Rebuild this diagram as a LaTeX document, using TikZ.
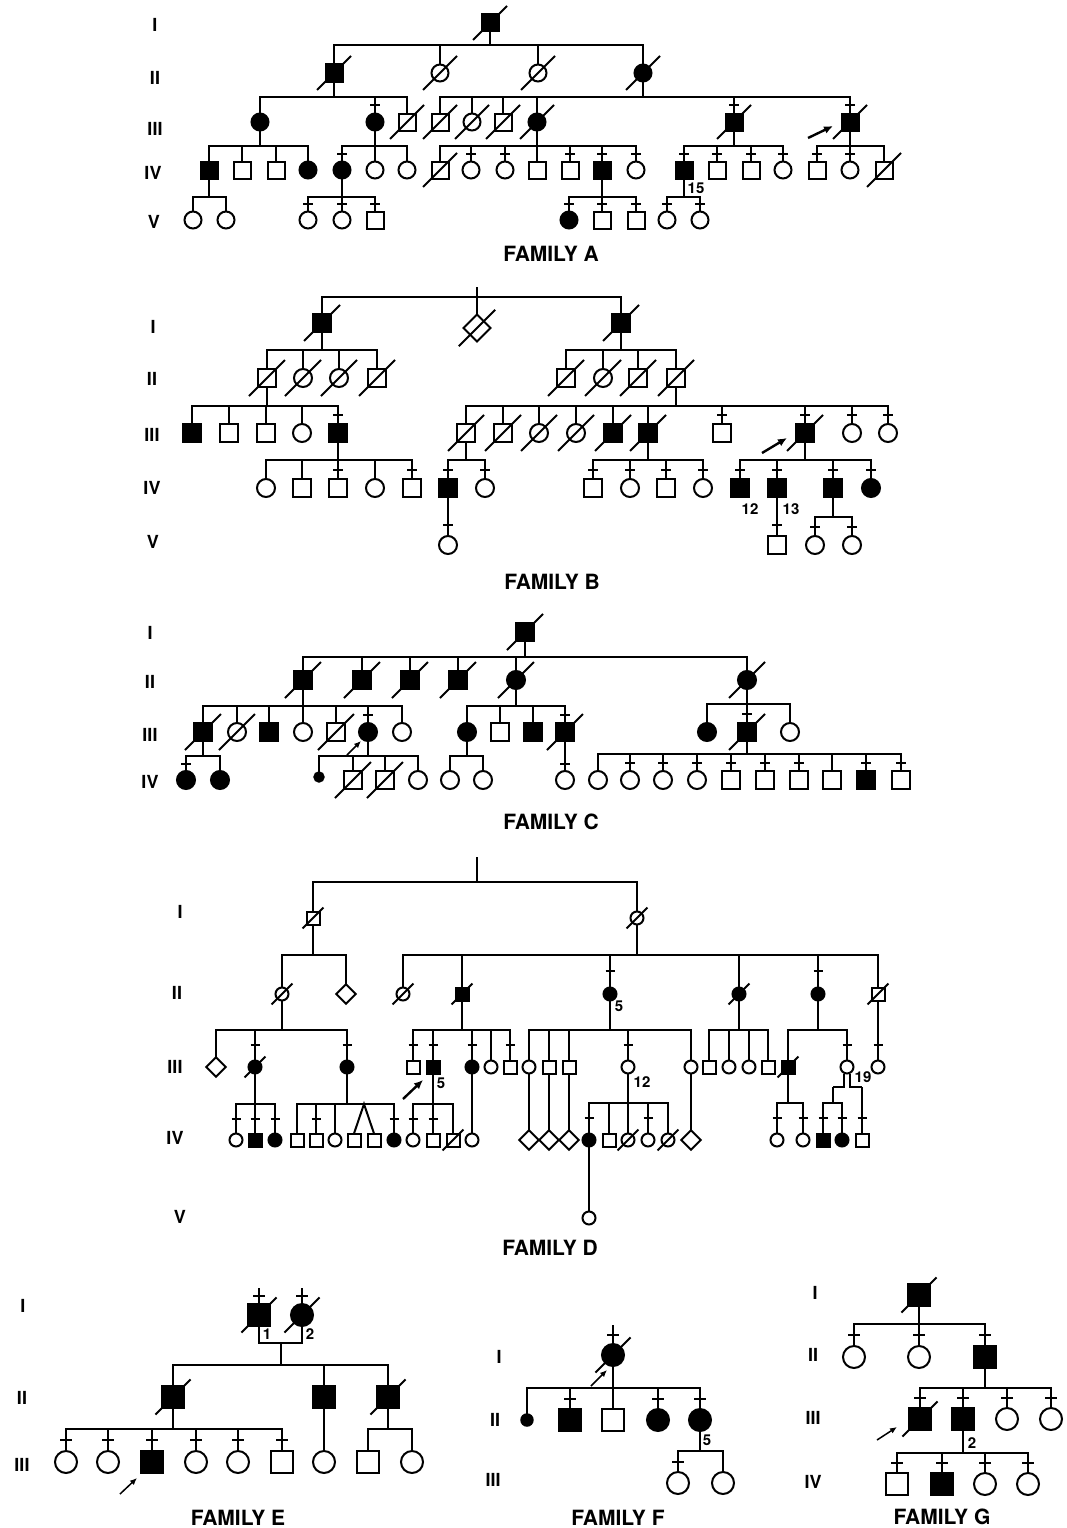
\documentclass[tikz,border=0pt]{standalone}
\usepackage{fontspec}
\setmainfont{TeX Gyre Heros}
\usetikzlibrary{calc,positioning,shapes.geometric,arrows.meta}
\tikzset{
  ln/.style={line width=2pt},
  ped/.style={draw,line width=2pt,inner sep=0pt,outer sep=0pt},
  male/.style={ped,rectangle,minimum size=\sz},
  maleA/.style={male,fill=black},
  fem/.style={ped,circle,minimum size=\sz},
  femA/.style={fem,fill=black},
  unk/.style={ped,diamond,minimum size=1.5*\sz},
  dotA/.style={ped,circle,fill=black,minimum size=0.52*\sz},
  pro/.style={line width=2.4pt,-{Latex[length=9pt,width=8pt]}},
  pros/.style={line width=1.5pt,-{Latex[length=7pt,width=6pt]}},
  gen/.style={font=\bfseries\fontsize{18}{18}\selectfont},
  fam/.style={font=\bfseries\fontsize{21}{21}\selectfont},
  num/.style={font=\bfseries\fontsize{15}{15}\selectfont,inner sep=0pt},
}
\begin{document}
\begin{tikzpicture}[x=1pt,y=-1pt]
  \useasboundingbox (0,0) rectangle (1067,1528);
  %\draw[color=gray,step=10,help lines,opacity=0.3] (0,0) grid (1067,1528); %help grids
  \def\sib#1#2#3#4{%
    \foreach \kid in {#3}{\draw[ln] (#1) -- (#1 |- 0,#2) -| (\kid.north);}
    \def\tklist{#4}%
    \ifx\tklist\empty\else
      \foreach \kid in {#4}{\draw[ln] ($(\kid.north)!.5!(\kid.north |- 0,#2)$) +(-\tw,0) -- +(\tw,0);}
    \fi}
  \def\dd#1{\draw[ln] ($(#1.center)!\slf!(#1.west |- #1.south)$) -- ($(#1.center)!\slf!(#1.east |- #1.north)$);}
  \def\stub#1#2{%
    \coordinate (#1-top) at ($(#1.north)+(0,-#2)$);
    \draw[ln] (#1-top) -- (#1);
    \draw[ln] ($(#1.north)!.5!(#1-top)$) +(-\tw,0) -- +(\tw,0);}

  % ---------------- family A
  \def\sz{17pt}\def\slf{2}\def\tw{5}
  \node[gen] (aI) at (155,25) {I};
  \node[gen] (aII) at (155,78) {II};
  \node[gen] (aIII) at (155,129) {III};
  \node[gen] (aIV) at (153,173) {IV};
  \node[gen] (aV) at (154,222) {V};
  \node[maleA] (a1-1) at (490,23) {};
  \node[maleA] (a2-1) at (334,73) {};
  \node[fem] (a2-2) at (440,73) {};
  \node[fem] (a2-3) at (538,73) {};
  \node[femA] (a2-4) at (643,73) {};
  \node[femA] (a3-1) at (260,122) {};
  \node[femA] (a3-2) at (375,122) {};
  \node[male] (a3-3) at (407,122) {};
  \node[male] (a3-4) at (440,122) {};
  \node[fem] (a3-5) at (472,122) {};
  \node[male] (a3-6) at (503,122) {};
  \node[femA] (a3-7) at (537,122) {};
  \node[maleA] (a3-8) at (734,122) {};
  \node[maleA] (a3-9) at (850,122) {};
  \node[maleA] (a4-1) at (209,170) {};
  \node[male] (a4-2) at (242,170) {};
  \node[male] (a4-3) at (276,170) {};
  \node[femA] (a4-4) at (308,170) {};
  \node[femA] (a4-5) at (342,170) {};
  \node[fem] (a4-6) at (375,170) {};
  \node[fem] (a4-7) at (407,170) {};
  \node[male] (a4-8) at (440,170) {};
  \node[fem] (a4-9) at (471,170) {};
  \node[fem] (a4-10) at (505,170) {};
  \node[male] (a4-11) at (537,170) {};
  \node[male] (a4-12) at (570,170) {};
  \node[maleA] (a4-13) at (602,170) {};
  \node[fem] (a4-14) at (636,170) {};
  \node[maleA] (a4-15) at (684,170) {};
  \node[male] (a4-16) at (717,170) {};
  \node[male] (a4-17) at (751,170) {};
  \node[fem] (a4-18) at (783,170) {};
  \node[male] (a4-19) at (817,170) {};
  \node[fem] (a4-20) at (850,170) {};
  \node[male] (a4-21) at (884,170) {};
  \node[fem] (a5-1) at (193,220) {};
  \node[fem] (a5-2) at (226,220) {};
  \node[fem] (a5-3) at (308,220) {};
  \node[fem] (a5-4) at (342,220) {};
  \node[male] (a5-5) at (375,220) {};
  \node[femA] (a5-6) at (569,220) {};
  \node[male] (a5-7) at (602,220) {};
  \node[male] (a5-8) at (636,220) {};
  \node[fem] (a5-9) at (667,220) {};
  \node[fem] (a5-10) at (700,220) {};
  \sib{a1-1}{45}{a2-1,a2-2,a2-3,a2-4}{}
  \sib{a2-1}{97}{a3-1,a3-2,a3-3}{a3-2}
  \sib{a2-4}{97}{a3-4,a3-5,a3-6,a3-7,a3-8,a3-9}{a3-8,a3-9}
  \sib{a3-1}{146}{a4-1,a4-2,a4-3,a4-4}{}
  \sib{a3-2}{146}{a4-5,a4-6,a4-7}{a4-5}
  \sib{a3-7}{146}{a4-8,a4-9,a4-10,a4-11,a4-12,a4-13,a4-14}{a4-9,a4-10,a4-12,a4-13,a4-14}
  \sib{a3-8}{146}{a4-15,a4-16,a4-17,a4-18}{a4-15,a4-16,a4-17,a4-18}
  \sib{a3-9}{146}{a4-19,a4-20,a4-21}{a4-19,a4-20}
  \sib{a4-1}{197}{a5-1,a5-2}{}
  \sib{a4-5}{197}{a5-3,a5-4,a5-5}{a5-3,a5-4,a5-5}
  \sib{a4-13}{197}{a5-6,a5-7,a5-8}{a5-6,a5-7,a5-8}
  \sib{a4-15}{197}{a5-9,a5-10}{a5-9,a5-10}
  \foreach \n in {a1-1,a2-1,a2-2,a2-3,a2-4,a3-3,a3-4,a3-5,a3-6,a3-7,a3-8,a3-9,a4-8,a4-21} \dd{\n};
  \node[num] (n15) at (696,188) {15};
  \coordinate (pA) at (808,138);
  \draw[pro] (pA) -- ++(25,-12);
  \node[fam] (famA) at (551,254) {FAMILY A};

  % ---------------- family B
  \def\sz{18pt}\def\slf{2}\def\tw{5}
  \node[gen] (bI) at (153,327) {I};
  \node[gen] (bII) at (152,379) {II};
  \node[gen] (bIII) at (152,435) {III};
  \node[gen] (bIV) at (152,488) {IV};
  \node[gen] (bV) at (153,542) {V};
  \coordinate (b0) at (477,287);
  \node[maleA] (b1-1) at (322,323) {};
  \node[unk] (b1-2) at (477,328) {};
  \node[maleA] (b1-3) at (621,323) {};
  \node[male] (b2-1) at (267,378) {};
  \node[fem] (b2-2) at (303,378) {};
  \node[fem] (b2-3) at (339,378) {};
  \node[male] (b2-4) at (377,378) {};
  \node[male] (b2-5) at (566,378) {};
  \node[fem] (b2-6) at (603,378) {};
  \node[male] (b2-7) at (638,378) {};
  \node[male] (b2-8) at (676,378) {};
  \node[maleA] (b3-1) at (192,433) {};
  \node[male] (b3-2) at (229,433) {};
  \node[male] (b3-3) at (266,433) {};
  \node[fem] (b3-4) at (302,433) {};
  \node[maleA] (b3-5) at (338,433) {};
  \node[male] (b3-6) at (466,433) {};
  \node[male] (b3-7) at (503,433) {};
  \node[fem] (b3-8) at (539,433) {};
  \node[fem] (b3-9) at (576,433) {};
  \node[maleA] (b3-10) at (613,433) {};
  \node[maleA] (b3-11) at (648,433) {};
  \node[male] (b3-12) at (722,433) {};
  \node[maleA] (b3-13) at (805,433) {};
  \node[fem] (b3-14) at (852,433) {};
  \node[fem] (b3-15) at (888,433) {};
  \node[fem] (b4-1) at (266,488) {};
  \node[male] (b4-2) at (302,488) {};
  \node[male] (b4-3) at (338,488) {};
  \node[fem] (b4-4) at (375,488) {};
  \node[male] (b4-5) at (412,488) {};
  \node[maleA] (b4-6) at (448,488) {};
  \node[fem] (b4-7) at (485,488) {};
  \node[male] (b4-8) at (593,488) {};
  \node[fem] (b4-9) at (630,488) {};
  \node[male] (b4-10) at (666,488) {};
  \node[fem] (b4-11) at (703,488) {};
  \node[maleA] (b4-12) at (740,488) {};
  \node[maleA] (b4-13) at (777,488) {};
  \node[maleA] (b4-14) at (833,488) {};
  \node[femA] (b4-15) at (871,488) {};
  \node[fem] (b5-1) at (448,545) {};
  \node[male] (b5-2) at (777,545) {};
  \node[fem] (b5-3) at (815,545) {};
  \node[fem] (b5-4) at (852,545) {};
  \sib{b0}{297}{b1-1,b1-2,b1-3}{}
  \sib{b1-1}{350}{b2-1,b2-2,b2-3,b2-4}{}
  \sib{b1-3}{350}{b2-5,b2-6,b2-7,b2-8}{}
  \sib{b2-1}{406}{b3-1,b3-2,b3-3,b3-4,b3-5}{b3-5}
  \sib{b2-8}{406}{b3-6,b3-7,b3-8,b3-9,b3-10,b3-11,b3-12,b3-13,b3-14,b3-15}{b3-12,b3-13,b3-14,b3-15}
  \sib{b3-5}{460}{b4-1,b4-2,b4-3,b4-4,b4-5}{b4-3,b4-5}
  \sib{b3-6}{460}{b4-6,b4-7}{b4-6,b4-7}
  \sib{b3-11}{460}{b4-8,b4-9,b4-10,b4-11}{b4-8,b4-9,b4-10,b4-11}
  \sib{b3-13}{460}{b4-12,b4-13,b4-14,b4-15}{b4-12,b4-13,b4-14,b4-15}
  \sib{b4-6}{514}{b5-1}{b5-1}
  \sib{b4-13}{514}{b5-2}{b5-2}
  \sib{b4-14}{517}{b5-3,b5-4}{b5-3,b5-4}
  \foreach \n in {b1-1,b1-3,b2-1,b2-2,b2-3,b2-4,b2-5,b2-6,b2-7,b2-8,b3-6,b3-7,b3-8,b3-9,b3-10,b3-11,b3-13} \dd{\n};
  {\def\slf{1.35}\dd{b1-2}}
  \node[num] (n12) at (750,509) {12};
  \node[num] (n13) at (791,509) {13};
  \coordinate (pB) at (762,453);
  \draw[pro] (pB) -- ++(25,-15);
  \node[fam] (famB) at (552,582) {FAMILY B};

  % ---------------- family C
  \def\sz{18pt}\def\slf{2}\def\tw{5}
  \node[gen] (cI) at (150,633) {I};
  \node[gen] (cII) at (150,682) {II};
  \node[gen] (cIII) at (150,735) {III};
  \node[gen] (cIV) at (150,782) {IV};
  \node[maleA] (c1-1) at (525,632) {};
  \node[maleA] (c2-1) at (303,680) {};
  \node[maleA] (c2-2) at (362,680) {};
  \node[maleA] (c2-3) at (410,680) {};
  \node[maleA] (c2-4) at (458,680) {};
  \node[femA] (c2-5) at (516,680) {};
  \node[femA] (c2-6) at (747,680) {};
  \node[maleA] (c3-1) at (203,732) {};
  \node[fem] (c3-2) at (237,732) {};
  \node[maleA] (c3-3) at (269,732) {};
  \node[fem] (c3-4) at (303,732) {};
  \node[male] (c3-5) at (336,732) {};
  \node[femA] (c3-6) at (368,732) {};
  \node[fem] (c3-7) at (402,732) {};
  \node[femA] (c3-8) at (467,732) {};
  \node[male] (c3-9) at (500,732) {};
  \node[maleA] (c3-10) at (533,732) {};
  \node[maleA] (c3-11) at (565,732) {};
  \node[femA] (c3-12) at (707,732) {};
  \node[maleA] (c3-13) at (747,732) {};
  \node[fem] (c3-14) at (790,732) {};
  \node[femA] (c4-1) at (186,780) {};
  \node[femA] (c4-2) at (220,780) {};
  \node[dotA] (c4-3) at (319,777) {};
  \node[male] (c4-4) at (353,780) {};
  \node[male] (c4-5) at (385,780) {};
  \node[fem] (c4-6) at (418,780) {};
  \node[fem] (c4-7) at (450,780) {};
  \node[fem] (c4-8) at (483,780) {};
  \node[fem] (c4-9) at (565,780) {};
  \node[fem] (c4-10) at (598,780) {};
  \node[fem] (c4-11) at (630,780) {};
  \node[fem] (c4-12) at (663,780) {};
  \node[fem] (c4-13) at (697,780) {};
  \node[male] (c4-14) at (731,780) {};
  \node[male] (c4-15) at (765,780) {};
  \node[male] (c4-16) at (799,780) {};
  \node[male] (c4-17) at (832,780) {};
  \node[maleA] (c4-18) at (866,780) {};
  \node[male] (c4-19) at (901,780) {};
  \sib{c1-1}{657}{c2-1,c2-2,c2-3,c2-4,c2-5,c2-6}{}
  \sib{c2-1}{706}{c3-1,c3-2,c3-3,c3-4,c3-5,c3-6,c3-7}{c3-6}
  \sib{c2-5}{706}{c3-8,c3-9,c3-10,c3-11}{c3-11}
  \sib{c2-6}{704}{c3-12,c3-13,c3-14}{c3-13}
  \sib{c3-1}{756}{c4-1,c4-2}{c4-1}
  \sib{c3-6}{756}{c4-3,c4-4,c4-5,c4-6}{}
  \sib{c3-8}{756}{c4-7,c4-8}{}
  \sib{c3-11}{756}{c4-9}{c4-9}
  \sib{c3-13}{754}{c4-10,c4-11,c4-12,c4-13,c4-14,c4-15,c4-16,c4-17,c4-18,c4-19}{c4-11,c4-12,c4-13,c4-14,c4-15,c4-16,c4-18,c4-19}
  \foreach \n in {c1-1,c2-1,c2-2,c2-3,c2-4,c2-5,c2-6,c3-1,c3-2,c3-5,c3-11,c3-13,c4-4,c4-5} \dd{\n};
  \coordinate (pC) at (347,755);
  \draw[pros] (pC) -- ++(14,-14);
  \node[fam] (famC) at (551,822) {FAMILY C};

  % ---------------- family D
  \def\sz{13pt}\def\slf{1.6}\def\tw{4.5}
  \node[gen] (dI) at (180,912) {I};
  \node[gen] (dII) at (177,993) {II};
  \node[gen] (dIII) at (175,1067) {III};
  \node[gen] (dIV) at (175,1138) {IV};
  \node[gen] (dV) at (180,1217) {V};
  \coordinate (d0) at (477,857);
  \node[male] (d1-1) at (313,918) {};
  \node[fem] (d1-2) at (637,918) {};
  \node[fem] (d2-1) at (282,994) {};
  \node[unk] (d2-2) at (346,994) {};
  \node[fem] (d2-3) at (403,994) {};
  \node[maleA] (d2-4) at (462,994) {};
  \node[femA] (d2-5) at (610,994) {};
  \node[femA] (d2-6) at (739,994) {};
  \node[femA] (d2-7) at (818,994) {};
  \node[male] (d2-8) at (878,994) {};
  \node[unk] (d3-1) at (216,1067) {};
  \node[femA] (d3-2) at (255,1067) {};
  \node[femA] (d3-3) at (347,1067) {};
  \node[male] (d3-4) at (413,1067) {};
  \node[maleA] (d3-5) at (433,1067) {};
  \node[femA] (d3-6) at (472,1067) {};
  \node[fem] (d3-7) at (491,1067) {};
  \node[male] (d3-8) at (510,1067) {};
  \node[fem] (d3-9) at (529,1067) {};
  \node[male] (d3-10) at (549,1067) {};
  \node[male] (d3-11) at (569,1067) {};
  \node[fem] (d3-12) at (628,1067) {};
  \node[fem] (d3-13) at (691,1067) {};
  \node[male] (d3-14) at (709,1067) {};
  \node[fem] (d3-15) at (729,1067) {};
  \node[fem] (d3-16) at (749,1067) {};
  \node[male] (d3-17) at (768,1067) {};
  \node[maleA] (d3-18) at (788,1067) {};
  \node[fem] (d3-19) at (847,1067) {};
  \node[fem] (d3-20) at (878,1067) {};
  \node[fem] (d4-1) at (236,1140) {};
  \node[maleA] (d4-2) at (255,1140) {};
  \node[femA] (d4-3) at (275,1140) {};
  \node[male] (d4-4) at (297,1140) {};
  \node[male] (d4-5) at (316,1140) {};
  \node[fem] (d4-6) at (335,1140) {};
  \node[male] (d4-7) at (354,1140) {};
  \node[male] (d4-8) at (374,1140) {};
  \node[femA] (d4-9) at (394,1140) {};
  \node[fem] (d4-10) at (413,1140) {};
  \node[male] (d4-11) at (433,1140) {};
  \node[male] (d4-12) at (453,1140) {};
  \node[fem] (d4-13) at (472,1140) {};
  \node[unk] (d4-14) at (529,1140) {};
  \node[unk] (d4-15) at (549,1140) {};
  \node[unk] (d4-16) at (569,1140) {};
  \node[femA] (d4-17) at (589,1140) {};
  \node[male] (d4-18) at (609,1140) {};
  \node[fem] (d4-19) at (628,1140) {};
  \node[fem] (d4-20) at (648,1140) {};
  \node[fem] (d4-21) at (668,1140) {};
  \node[unk] (d4-22) at (691,1140) {};
  \node[fem] (d4-23) at (777,1140) {};
  \node[fem] (d4-24) at (803,1140) {};
  \node[maleA] (d4-25) at (823,1140) {};
  \node[femA] (d4-26) at (842,1140) {};
  \node[male] (d4-27) at (862,1140) {};
  \node[fem] (d5-1) at (589,1218) {};
  \sib{d0}{882}{d1-1,d1-2}{}
  \sib{d1-1}{955}{d2-1,d2-2}{}
  \sib{d1-2}{955}{d2-3,d2-4,d2-5,d2-6,d2-7,d2-8}{d2-5,d2-7}
  \sib{d2-1}{1030}{d3-1,d3-2,d3-3}{d3-2,d3-3}
  \sib{d2-4}{1030}{d3-4,d3-5,d3-6,d3-7,d3-8}{d3-4,d3-5,d3-6,d3-8}
  \sib{d2-5}{1030}{d3-9,d3-10,d3-11,d3-12,d3-13}{d3-12}
  \sib{d2-6}{1030}{d3-14,d3-15,d3-16,d3-17}{}
  \sib{d2-7}{1030}{d3-18,d3-19}{d3-19}
  \sib{d2-8}{1030}{d3-20}{d3-20}
  \sib{d3-2}{1104}{d4-1,d4-2,d4-3}{d4-1,d4-2,d4-3}
  \sib{d3-3}{1104}{d4-4,d4-5,d4-6,d4-9}{d4-5,d4-9}
  \coordinate (tw) at (364,1104);
  \draw[ln] (d4-7.north) -- (tw) -- (d4-8.north);
  \sib{d3-5}{1104}{d4-10,d4-11,d4-12}{d4-10,d4-11}
  \sib{d3-6}{1104}{d4-13}{}
  \sib{d3-9}{1104}{d4-14}{}
  \sib{d3-10}{1104}{d4-15}{}
  \sib{d3-11}{1104}{d4-16}{}
  \sib{d3-13}{1104}{d4-22}{}
  \sib{d3-12}{1103}{d4-17,d4-18,d4-19,d4-20,d4-21}{d4-17,d4-20}
  \sib{d3-18}{1103}{d4-23,d4-24}{d4-23,d4-24}
  \coordinate (d19l) at (844,1087);
  \coordinate (d19r) at (850,1087);
  \coordinate (d19a) at (833,1087);
  \coordinate (d19b) at (862,1087);
  \draw[ln] (d3-19.south -| d19l) -- (d19l) -- (d19a);
  \draw[ln] (d3-19.south -| d19r) -- (d19r) -- (d19b);
  \sib{d19a}{1103}{d4-25,d4-26}{d4-25,d4-26}
  \sib{d19b}{1103}{d4-27}{d4-27}
  \sib{d4-17}{1150}{d5-1}{}
  \foreach \n in {d1-1,d1-2,d2-1,d2-3,d2-4,d2-6,d2-8,d3-2,d3-18,d4-12,d4-19,d4-21} \dd{\n};
  \node[num] (n5a) at (619,1006) {5};
  \node[num] (n5b) at (441,1083) {5};
  \node[num] (n12d) at (642,1082) {12};
  \node[num] (n19) at (863,1077) {19};
  \coordinate (pD) at (403,1099);
  \draw[pro] (pD) -- ++(20,-19);
  \node[fam] (famD) at (550,1248) {FAMILY D};

  % ---------------- family E
  \def\sz{22pt}\def\slf{1.6}\def\tw{6}
  \node[gen] (eI) at (23,1306) {I};
  \node[gen] (eII) at (22,1398) {II};
  \node[gen] (eIII) at (22,1465) {III};
  \node[maleA] (e1-1) at (259,1315) {};
  \node[femA] (e1-2) at (302,1315) {};
  \node[maleA] (e2-1) at (173,1397) {};
  \node[maleA] (e2-2) at (324,1397) {};
  \node[maleA] (e2-3) at (388,1397) {};
  \node[fem] (e3-1) at (66,1462) {};
  \node[fem] (e3-2) at (108,1462) {};
  \node[maleA] (e3-3) at (152,1462) {};
  \node[fem] (e3-4) at (196,1462) {};
  \node[fem] (e3-5) at (238,1462) {};
  \node[male] (e3-6) at (282,1462) {};
  \node[fem] (e3-7) at (324,1462) {};
  \node[male] (e3-8) at (368,1462) {};
  \node[fem] (e3-9) at (412,1462) {};
  \stub{e1-1}{16}
  \stub{e1-2}{16}
  \coordinate (e12) at (281,1343);
  \draw[ln] (e1-1) |- (e12) -| (e1-2);
  \sib{e12}{1365}{e2-1,e2-2,e2-3}{}
  \sib{e2-1}{1429}{e3-1,e3-2,e3-3,e3-4,e3-5,e3-6}{e3-1,e3-2,e3-3,e3-4,e3-5,e3-6}
  \sib{e2-2}{1429}{e3-7}{}
  \sib{e2-3}{1429}{e3-8,e3-9}{}
  \foreach \n in {e1-1,e1-2,e2-1,e2-3} \dd{\n};
  \node[num] (n1) at (267,1334) {1};
  \node[num] (n2) at (310,1334) {2};
  \coordinate (pE) at (120,1494);
  \draw[pros] (pE) -- ++(17,-16);
  \node[fam] (famE) at (238,1518) {FAMILY E};

  % ---------------- family F
  \def\sz{22pt}\def\slf{1.6}\def\tw{6}
  \node[gen] (fI) at (499,1357) {I};
  \node[gen] (fII) at (495,1420) {II};
  \node[gen] (fIII) at (493,1480) {III};
  \node[femA] (f1-1) at (613,1355) {};
  \node[dotA] (f2-1) at (527,1420) {};
  \node[maleA] (f2-2) at (570,1420) {};
  \node[male] (f2-3) at (613,1420) {};
  \node[femA] (f2-4) at (658,1420) {};
  \node[femA] (f2-5) at (700,1420) {};
  \node[fem] (f3-1) at (678,1483) {};
  \node[fem] (f3-2) at (723,1483) {};
  \stub{f1-1}{19}
  \sib{f1-1}{1388}{f2-1,f2-2,f2-3,f2-4,f2-5}{f2-2,f2-4,f2-5}
  \sib{f2-5}{1451}{f3-1,f3-2}{f3-1}
  \dd{f1-1}
  \node[num] (n5f) at (707,1440) {5};
  \coordinate (pF) at (591,1386);
  \draw[pros] (pF) -- ++(16,-16);
  \node[fam] (famF) at (618,1518) {FAMILY F};

  % ---------------- family G
  \def\sz{22pt}\def\slf{1.6}\def\tw{6}
  \node[gen] (gI) at (815,1293) {I};
  \node[gen] (gII) at (813,1355) {II};
  \node[gen] (gIII) at (813,1418) {III};
  \node[gen] (gIV) at (813,1482) {IV};
  \node[maleA] (g1-1) at (919,1295) {};
  \node[fem] (g2-1) at (854,1357) {};
  \node[fem] (g2-2) at (919,1357) {};
  \node[maleA] (g2-3) at (985,1357) {};
  \node[maleA] (g3-1) at (920,1419) {};
  \node[maleA] (g3-2) at (963,1419) {};
  \node[fem] (g3-3) at (1007,1419) {};
  \node[fem] (g3-4) at (1051,1419) {};
  \node[male] (g4-1) at (897,1484) {};
  \node[maleA] (g4-2) at (942,1484) {};
  \node[fem] (g4-3) at (985,1484) {};
  \node[fem] (g4-4) at (1028,1484) {};
  \sib{g1-1}{1324}{g2-1,g2-2,g2-3}{g2-1,g2-2,g2-3}
  \sib{g2-3}{1388}{g3-1,g3-2,g3-3,g3-4}{g3-1,g3-2,g3-3,g3-4}
  \sib{g3-2}{1453}{g4-1,g4-2,g4-3,g4-4}{g4-1,g4-2,g4-3,g4-4}
  \foreach \n in {g1-1,g3-1} \dd{\n};
  \node[num] (n2g) at (972,1443) {2};
  \coordinate (pG) at (877,1440);
  \draw[pros] (pG) -- ++(20,-13);
  \node[fam] (famG) at (942,1517) {FAMILY G};
\end{tikzpicture}
\end{document}
